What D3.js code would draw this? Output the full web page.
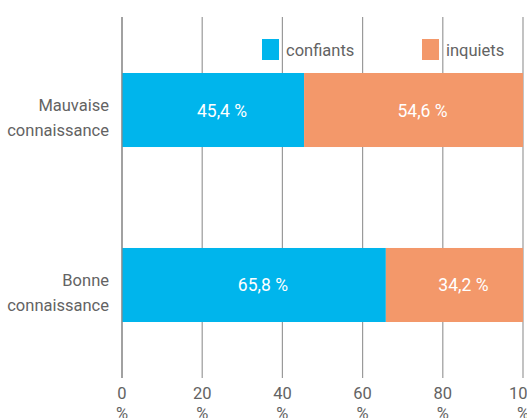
<!DOCTYPE html>
<html>
  <head>
    <meta charset="utf-8">
    <title>Confiants / inquiets</title>
    <style type="text/css">
      body {
        margin: 0;
        background: #fff;
        overflow: hidden;
      }
      text {
        font-family: Roboto, "Liberation Sans", Arial, sans-serif;
        font-size: 16.5px;
        fill: #636363;
      }
      .grid line {
        stroke: #9a9a9a;
        stroke-width: 1.2px;
      }
      .val {
        fill: #fff;
        font-size: 17.5px;
      }
    </style>
  </head>
<body>
  <div id="chart"></div>

  <script src="https://cdn.jsdelivr.net/npm/d3@7"></script>
  <script type="text/javascript">
    var width = 527, height = 418;

    // data
    var categories = [["Mauvaise", "connaissance"], ["Bonne", "connaissance"]];
    var seriesNames = ["confiants", "inquiets"];
    var confiants = [45.4, 65.8];
    var inquiets = [54.6, 34.2];
    var ticks = [0, 20, 40, 60, 80, 100];
    var colors = ["#00b5ec", "#f3986a"];

    var rows = categories.map(function (c, i) {
      return { key: i, label: c, confiants: confiants[i], inquiets: inquiets[i] };
    });

    var x = d3.scaleLinear().domain([0, 100]).range([122, 523]);
    var y = d3.scaleBand()
      .domain(rows.map(function (d) { return d.key; }))
      .range([17, 378])
      .paddingInner(0.577)
      .paddingOuter(0.32);

    var svg = d3.select("#chart").append("svg")
      .attr("width", width)
      .attr("height", height);

    // grid lines
    var grid = svg.append("g").attr("class", "grid");
    grid.selectAll("line").data(ticks).enter().append("line")
      .attr("x1", function (d) { return x(d); })
      .attr("x2", function (d) { return x(d); })
      .attr("y1", 17)
      .attr("y2", 378);

    // tick labels, value on one line and % under it
    var tl = svg.append("g").selectAll("text").data(ticks).enter().append("text")
      .attr("text-anchor", "middle")
      .attr("x", function (d) { return x(d); })
      .attr("y", 399);
    tl.append("tspan").text(function (d) { return d; });
    tl.append("tspan")
      .attr("x", function (d) { return x(d); })
      .attr("dy", 20)
      .text("%");

    // stacked bars
    var stack = d3.stack().keys(seriesNames);
    var layers = stack(rows);

    var fmt = function (v) { return d3.format(".1f")(v).replace(".", ",") + " %"; };

    layers.forEach(function (layer, li) {
      var g = svg.append("g");
      g.selectAll("rect").data(layer).enter().append("rect")
        .attr("x", function (d) { return x(d[0]); })
        .attr("width", function (d) { return x(d[1]) - x(d[0]); })
        .attr("y", function (d) { return y(d.data.key); })
        .attr("height", y.bandwidth())
        .attr("fill", colors[li]);

      g.selectAll("text").data(layer).enter().append("text")
        .attr("class", "val")
        .attr("text-anchor", "middle")
        .attr("x", function (d) { return (x(d[0]) + x(d[1])) / 2 + 9; })
        .attr("y", function (d) { return y(d.data.key) + y.bandwidth() / 2 + 6.5; })
        .text(function (d) { return fmt(d[1] - d[0]); });
    });

    // zero line over the bars
    svg.append("line")
      .attr("x1", x(0)).attr("x2", x(0))
      .attr("y1", 17).attr("y2", 378)
      .attr("stroke", "#8a8a8a")
      .attr("stroke-width", 1.2);

    // category labels
    var cl = svg.append("g").selectAll("text").data(rows).enter().append("text")
      .attr("text-anchor", "end")
      .attr("y", function (d) { return y(d.key) + y.bandwidth() / 2; });
    cl.append("tspan")
      .attr("x", 109)
      .attr("dy", 1)
      .text(function (d) { return d.label[0]; });
    cl.append("tspan")
      .attr("x", 109)
      .attr("dy", 25)
      .text(function (d) { return d.label[1]; });

    // legend
    var legX = [262, 422];
    var leg = svg.append("g").selectAll("g").data(seriesNames).enter().append("g");
    leg.append("rect")
      .attr("x", function (d, i) { return legX[i]; })
      .attr("y", 39)
      .attr("width", 17)
      .attr("height", 21)
      .attr("fill", function (d, i) { return colors[i]; });
    leg.append("text")
      .attr("x", function (d, i) { return legX[i] + 24; })
      .attr("y", 56)
      .text(function (d) { return d; });
  </script>
</body>
</html>
